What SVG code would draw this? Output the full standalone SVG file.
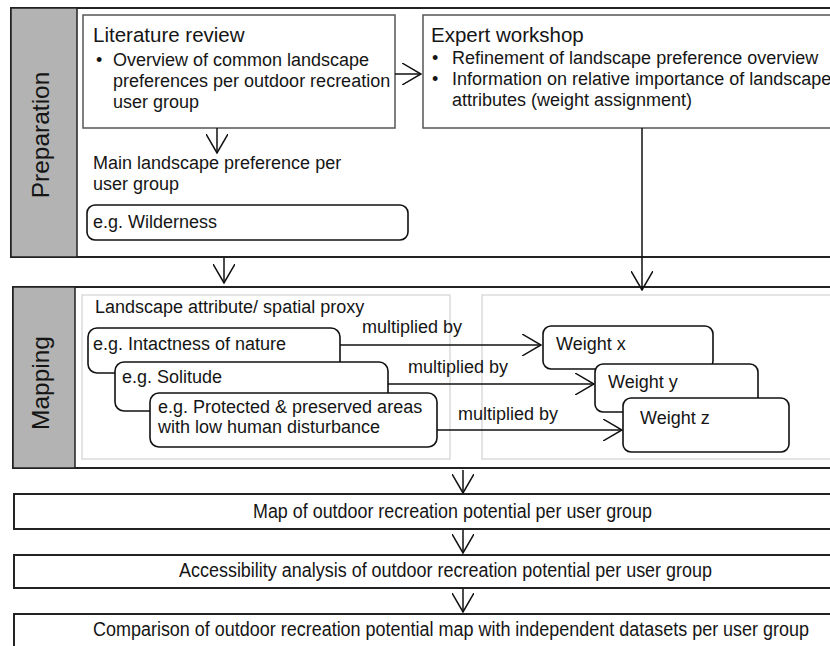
<svg xmlns="http://www.w3.org/2000/svg" width="830" height="646" viewBox="0 0 830 646">
<defs>
<style>
text{font-family:"Liberation Sans",Arial,sans-serif;fill:#151515}
.b{font-size:18px}
.t{font-size:20.5px}
.side{font-size:24.5px}
.n{font-size:20px}
.panel{fill:#fff;stroke:#222;stroke-width:2}
.strip{fill:#b3b3b3;stroke:#222;stroke-width:1.5}
.box{fill:#fff;stroke:#555;stroke-width:1.5}
.rbox{fill:#fff;stroke:#111;stroke-width:1.6}
.inner{fill:none;stroke:#d2d2d2;stroke-width:1.2}
.c{fill:none;stroke:#111;stroke-width:1.5}
</style>
<marker id="v" markerUnits="userSpaceOnUse" viewBox="0 0 20 22" refX="19" refY="11" markerWidth="20" markerHeight="22" orient="auto"><path d="M0,0 L19,11 L0,22" fill="none" stroke="#111" stroke-width="1.5"/></marker>
</defs>
<rect width="830" height="646" fill="#fff"/>

<g id="preparation">
<rect class="panel" x="11" y="8" width="830" height="249"/>
<rect class="strip" x="11" y="8" width="66" height="249"/>
<text class="side" transform="translate(49,135) rotate(-90)" text-anchor="middle">Preparation</text>
</g>

<g id="literature-review">
<rect class="box" x="83" y="15" width="312" height="113"/>
<text class="t" x="93" y="42">Literature review</text>
<text class="b" x="96" y="66">•</text>
<text class="b" x="113" y="66">Overview of common landscape</text>
<text class="b" x="113" y="87">preferences per outdoor recreation</text>
<text class="b" x="113" y="108">user group</text>
</g>

<g id="expert-workshop">
<rect class="box" x="423" y="15" width="420" height="113"/>
<text class="t" x="431" y="42">Expert workshop</text>
<text class="b" x="432" y="64">•</text>
<text class="b" x="452" y="64">Refinement of landscape preference overview</text>
<text class="b" x="432" y="85">•</text>
<text class="b" x="452" y="85">Information on relative importance of landscape</text>
<text class="b" x="452" y="106">attributes (weight assignment)</text>
</g>

<g id="main-preference">
<text class="b" x="93" y="169">Main landscape preference per</text>
<text class="b" x="93" y="190">user group</text>
</g>

<g id="wilderness">
<rect class="rbox" x="87" y="205" width="321" height="35" rx="8"/>
<text class="b" x="93" y="228">e.g. Wilderness</text>
</g>

<g id="mapping">
<rect class="panel" x="13" y="287" width="830" height="181"/>
<rect class="strip" x="13" y="287" width="62" height="181"/>
<text class="side" transform="translate(49,383) rotate(-90)" text-anchor="middle">Mapping</text>
<rect class="inner" x="82" y="295" width="368" height="164"/>
<rect class="inner" x="482" y="295" width="360" height="164"/>
<text class="b" x="95" y="313">Landscape attribute/ spatial proxy</text>
</g>

<g id="intactness">
<rect class="rbox" x="88" y="328" width="252" height="45" rx="9"/>
<text class="b" x="93" y="350">e.g. Intactness of nature</text>
</g>
<g id="solitude">
<rect class="rbox" x="115" y="362" width="273" height="49" rx="9"/>
<text class="b" x="122" y="383">e.g. Solitude</text>
</g>
<g id="protected">
<rect class="rbox" x="150" y="393" width="287" height="54" rx="9"/>
<text class="b" x="158" y="413">e.g. Protected &amp; preserved areas</text>
<text class="b" x="158" y="433">with low human disturbance</text>
</g>

<g id="weight-x">
<rect class="rbox" x="543" y="326" width="170" height="43" rx="8"/>
<text class="b" x="556" y="350">Weight x</text>
</g>
<g id="weight-y">
<rect class="rbox" x="595" y="364" width="163" height="48" rx="8"/>
<text class="b" x="608" y="388">Weight y</text>
</g>
<g id="weight-z">
<rect class="rbox" x="623" y="398" width="166" height="54" rx="8"/>
<text class="b" x="640" y="424">Weight z</text>
</g>

<g id="map-potential">
<rect class="panel" x="14" y="494" width="830" height="35"/>
<text class="n" x="253" y="518" textLength="399" lengthAdjust="spacingAndGlyphs">Map of outdoor recreation potential per user group</text>
</g>
<g id="accessibility">
<rect class="panel" x="14" y="555" width="830" height="33"/>
<text class="n" x="179" y="577" textLength="533" lengthAdjust="spacingAndGlyphs">Accessibility analysis of outdoor recreation potential per user group</text>
</g>
<g id="comparison">
<rect class="panel" x="14" y="614" width="830" height="50"/>
<text class="n" x="93" y="636" textLength="716" lengthAdjust="spacingAndGlyphs">Comparison of outdoor recreation potential map with independent datasets per user group</text>
</g>

<g id="connectors">
<line class="c" x1="395" y1="74" x2="421" y2="74" marker-end="url(#v)"/>
<line class="c" x1="217" y1="128" x2="217" y2="153" marker-end="url(#v)"/>
<line class="c" x1="642" y1="128" x2="642" y2="290" marker-end="url(#v)"/>
<line class="c" x1="224" y1="258" x2="224" y2="283" marker-end="url(#v)"/>
<line class="c" x1="340" y1="345" x2="541" y2="345" marker-end="url(#v)"/>
<text class="b" x="362" y="333">multiplied by</text>
<line class="c" x1="388" y1="384" x2="594" y2="384" marker-end="url(#v)"/>
<text class="b" x="408" y="373">multiplied by</text>
<line class="c" x1="437" y1="430" x2="622" y2="430" marker-end="url(#v)"/>
<text class="b" x="458" y="420">multiplied by</text>
<line class="c" x1="463" y1="470" x2="463" y2="493" marker-end="url(#v)"/>
<line class="c" x1="463" y1="530" x2="463" y2="553" marker-end="url(#v)"/>
<line class="c" x1="463" y1="589" x2="463" y2="612" marker-end="url(#v)"/>
</g>
</svg>
